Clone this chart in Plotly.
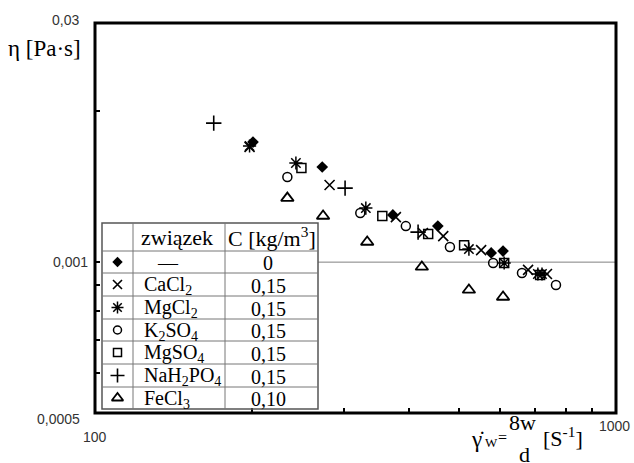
import plotly.graph_objects as go

# ---------------- data ----------------
names = ["—", "CaCl<sub>2</sub>", "MgCl<sub>2</sub>", "K<sub>2</sub>SO<sub>4</sub>",
         "MgSO<sub>4</sub>", "NaH<sub>2</sub>PO<sub>4</sub>", "FeCl<sub>3</sub>"]
conc = ["0", "0,15", "0,15", "0,15", "0,15", "0,15", "0,10"]

x_none = [201, 273, 373, 455, 576, 607]
y_none = [0.001736, 0.001548, 0.001242, 0.001180, 0.001043, 0.001052]

x_cacl2 = [198, 282, 378, 426, 466, 551, 678, 737]
y_cacl2 = [0.001697, 0.001425, 0.001230, 0.001143, 0.001127, 0.001057, 0.000965, 0.000947]

x_mgcl2 = [198, 243, 331, 522, 610, 708, 721]
y_mgcl2 = [0.001705, 0.001577, 0.001282, 0.001062, 0.000996, 0.000947, 0.000947]

x_k2so4 = [234, 323, 395, 480, 581, 660, 767]
y_k2so4 = [0.001479, 0.001253, 0.001180, 0.001072, 0.000996, 0.000951, 0.000900]

x_mgso4 = [249, 356, 436, 511, 610, 715]
y_mgso4 = [0.001541, 0.001236, 0.001138, 0.001081, 0.000996, 0.000943]

x_nah2po4 = [169, 302, 417]
y_nah2po4 = [0.001894, 0.001405, 0.001148]

x_fecl3 = [234, 274, 333, 424, 522, 607]
y_fecl3 = [0.001342, 0.001236, 0.001097, 0.000978, 0.000880, 0.000852]

x_ticks = [100, 1000]
x_ticklabels = ["100", "1000"]
x_minor = [200, 300, 400, 500, 600, 700, 800, 900]
y_ticks = [0.0005, 0.001, 0.003]
y_ticklabels = ["0,0005", "0,001", "0,03"]
y_minor = [0.0006, 0.0007, 0.0008, 0.0009, 0.002]

# ---------------- styling ----------------
W, H = 634, 463
L, R, T, B = 95, 616, 23, 413
SERIF = "Liberation Serif, Times New Roman, serif"
SANS = "Liberation Sans, Arial, sans-serif"


def px(x):
    return (x - L) / (R - L)


def py(y):
    return (B - y) / (B - T)


styles = [
    dict(symbol="diamond", size=9, line=dict(width=0, color="black")),
    dict(symbol="x-thin-open", size=10, line=dict(width=1.6, color="black")),
    dict(symbol="asterisk-open", size=11, line=dict(width=1.5, color="black")),
    dict(symbol="circle-open", size=9, line=dict(width=1.5, color="black")),
    dict(symbol="square-open", size=9, line=dict(width=1.5, color="black")),
    dict(symbol="cross-thin-open", size=11, line=dict(width=1.6, color="black")),
    dict(symbol="triangle-up-open", size=11, line=dict(width=1.8, color="black")),
]
series = [(x_none, y_none), (x_cacl2, y_cacl2), (x_mgcl2, y_mgcl2), (x_k2so4, y_k2so4),
          (x_mgso4, y_mgso4), (x_nah2po4, y_nah2po4), (x_fecl3, y_fecl3)]

fig = go.Figure()
for (xs, ys), st in zip(series, styles):
    fig.add_trace(go.Scatter(x=xs, y=ys, mode="markers", showlegend=False,
                             marker=dict(color="black", **st), cliponaxis=False))

# ---------------- legend table ----------------
tab_l, c1, c2, tab_r = 102, 133, 225, 318
rows = [223, 251, 273, 296, 319, 341, 364, 387, 409]

leg_y = [py((rows[i + 1] + rows[i + 2]) / 2) for i in range(7)]
for i, st in enumerate(styles):
    s = dict(st)
    s["size"] = st["size"] - 1
    fig.add_trace(go.Scatter(x=[px((tab_l + c1) / 2)], y=[leg_y[i]], xaxis="x2", yaxis="y2",
                             mode="markers", showlegend=False,
                             marker=dict(color="black", **s), cliponaxis=False))

shapes = []
gc = "#777777"
# horizontal reference line at 0,001
shapes.append(dict(type="line", xref="paper", yref="y", x0=px(tab_r), x1=1, y0=0.001, y1=0.001,
                   line=dict(color="#808080", width=1), layer="below"))
# outer table border
shapes.append(dict(type="rect", xref="paper", yref="paper", x0=px(tab_l), x1=px(tab_r),
                   y0=py(rows[-1]), y1=py(rows[0]), line=dict(color="#555555", width=1.5),
                   layer="above"))
for yy in rows[1:-1]:
    shapes.append(dict(type="line", xref="paper", yref="paper", x0=px(tab_l), x1=px(tab_r),
                       y0=py(yy), y1=py(yy), line=dict(color=gc, width=1), layer="above"))
for xx in (c1, c2):
    shapes.append(dict(type="line", xref="paper", yref="paper", x0=px(xx), x1=px(xx),
                       y0=py(rows[-1]), y1=py(rows[0]), line=dict(color=gc, width=1), layer="above"))
# plot frame
shapes.append(dict(type="rect", xref="paper", yref="paper", x0=0, x1=1, y0=0, y1=1,
                   line=dict(color="black", width=3), layer="above"))

ann = []


def A(text, x, y, size, xa="center", font=SERIF, color="black", ya="middle"):
    ann.append(dict(text=text, x=px(x), y=py(y), xref="paper", yref="paper", showarrow=False,
                    xanchor=xa, yanchor=ya, font=dict(family=font, size=size, color=color)))


A("związek", 177, 237, 22)
A("C [kg/m<sup>3</sup>]", 272, 237, 22)
for i in range(7):
    yc = (rows[i + 1] + rows[i + 2]) / 2 + 1
    if i == 0:
        A(names[i], 168, yc, 20)
    else:
        A(names[i], 142, yc, 20, xa="left")
    A(conc[i], 268, yc, 20)

# axis title (y)
A("η [Pa·s]", 83, 48, 23, xa="right")
# tick labels
A(y_ticklabels[2], 81, 20, 14, xa="right", font=SANS, color="#333333")
A(y_ticklabels[1], 90, 262, 14, xa="right", font=SANS, color="#333333")
A(y_ticklabels[0], 82, 419, 14, xa="right", font=SANS, color="#333333")
A(x_ticklabels[0], 95, 437, 14, font=SANS, color="#333333")
A(x_ticklabels[1], 614, 426, 14, font=SANS, color="#333333")
# x axis title formula
A("γ̇", 477, 439, 23)
A("W", 491, 442, 13)
A("=", 502, 437, 16)
A("8w", 522, 423, 22)
A("d", 524, 454, 22)
A("[S<sup>-1</sup>]", 563, 437, 22)

fig.update_layout(
    width=W, height=H,
    margin=dict(l=L, r=W - R, t=T, b=H - B, pad=0),
    paper_bgcolor="white", plot_bgcolor="white",
    shapes=shapes, annotations=ann,
    xaxis=dict(type="log", range=[2, 3], showline=False,
               ticks="inside", ticklen=5, tickwidth=2, tickcolor="black",
               tickvals=x_ticks, showticklabels=False, showgrid=False, zeroline=False,
               minor=dict(tickvals=x_minor, ticks="inside", ticklen=5, tickwidth=2,
                          tickcolor="black", showgrid=False)),
    yaxis=dict(type="log", range=[-3.30103, -2.522879], showline=False,
               ticks="inside", ticklen=5, tickwidth=2,
               tickcolor="black", tickvals=y_ticks, showticklabels=False, showgrid=False,
               zeroline=False,
               minor=dict(tickvals=y_minor, ticks="inside", ticklen=5, tickwidth=2,
                          tickcolor="black", showgrid=False)),
    xaxis2=dict(overlaying="x", range=[0, 1], visible=False),
    yaxis2=dict(overlaying="y", range=[0, 1], visible=False),
)

fig.write_html("out.html", config={"displayModeBar": False},
               post_script="document.body.style.margin='0px';")
